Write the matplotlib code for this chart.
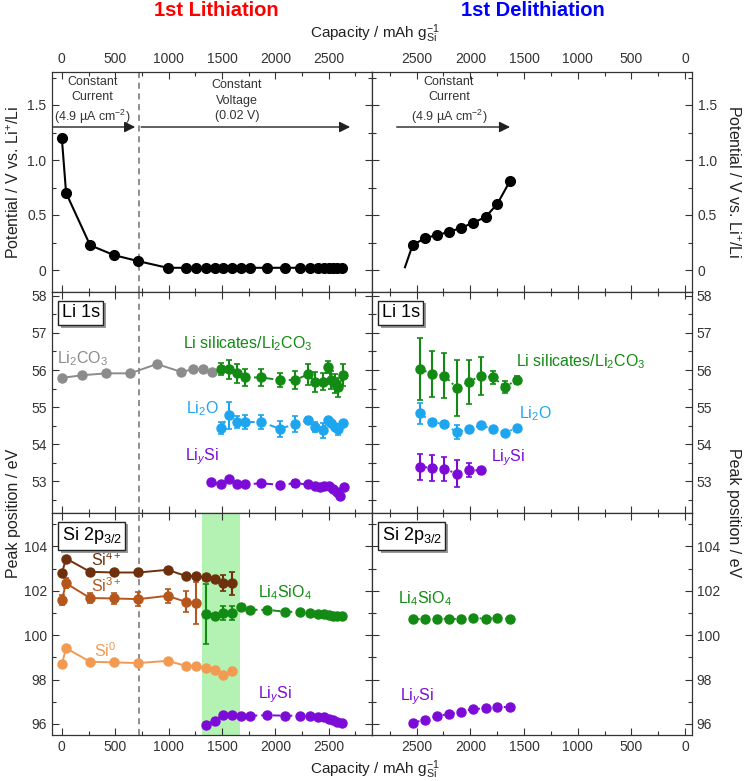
import numpy as np
import matplotlib
matplotlib.use('Agg')
from matplotlib import pyplot as plt
from matplotlib import patheffects
from matplotlib.ticker import MultipleLocator, FuncFormatter

plt.rcParams['font.family'] = ['Liberation Sans', 'DejaVu Sans']
plt.rcParams['mathtext.fontset'] = 'custom'
plt.rcParams['mathtext.rm'] = 'Liberation Sans'
plt.rcParams['mathtext.it'] = 'Liberation Sans:italic'
plt.rcParams['mathtext.bf'] = 'Liberation Sans:bold'

# ---- potential curves ----
cap_lith = [0, 40, 265, 490, 718, 990, 1159, 1259, 1350, 1431, 1512, 1593,
            1674, 1765, 1924, 2093, 2227, 2327, 2402, 2455, 2499, 2540, 2580, 2624]
pot_lith = [1.20, 0.70, 0.225, 0.135, 0.08, 0.02, 0.02, 0.02, 0.02, 0.02, 0.02, 0.02,
            0.02, 0.02, 0.02, 0.02, 0.02, 0.02, 0.02, 0.02, 0.02, 0.02, 0.02, 0.02]
cap_delith = [2609, 2537, 2423, 2314, 2199, 2087, 1972, 1857, 1749, 1630]
pot_delith = [0.025, 0.228, 0.288, 0.318, 0.345, 0.384, 0.429, 0.483, 0.60, 0.81]

# ---- Li 1s, lithiation ----
cap_li2co3 = [6, 193, 418, 640, 890, 1118, 1233, 1318, 1402]
li2co3 = [55.79, 55.86, 55.91, 55.91, 56.16, 55.95, 56.02, 56.02, 55.95]
cap_li1s = [1490, 1568, 1640, 1718, 1865, 2040, 2187, 2302, 2374, 2443, 2493, 2525, 2558, 2590, 2635]
lisil = [56.02, 56.02, 55.91, 55.80, 55.80, 55.73, 55.73, 55.88, 55.68, 55.68, 56.07, 55.73, 55.64, 55.53, 55.86]
lisil_err = [0.16, 0.25, 0.25, 0.22, 0.23, 0.20, 0.23, 0.28, 0.26, 0.23, 0.16, 0.25, 0.25, 0.25, 0.30]
li2o = [54.45, 54.78, 54.60, 54.60, 54.60, 54.42, 54.54, 54.65, 54.47, 54.38, 54.65, 54.56, 54.47, 54.40, 54.56]
li2o_err = [0.16, 0.36, 0.17, 0.20, 0.18, 0.22, 0.21, 0.08, 0.14, 0.20, 0.05, 0.05, 0.08, 0.15, 0.05]
cap_liysi1s = [1395, 1487, 1568, 1640, 1718, 1865, 2040, 2187, 2302, 2374, 2420, 2460, 2500, 2540, 2578, 2608, 2640]
liysi1s = [52.98, 52.92, 53.07, 52.92, 52.92, 52.95, 52.91, 52.95, 52.92, 52.87, 52.85, 52.89, 52.87,
           52.80, 52.71, 52.60, 52.85]
liysi1s_err = [0, 0, 0, 0, 0, 0, 0.05, 0.1, 0.05, 0.05, 0, 0, 0, 0.05, 0.05, 0, 0]

# ---- Li 1s, delithiation ----
cap_d1s = [2469, 2355, 2243, 2127, 2015, 1901, 1789, 1677, 1565]
lisil_d = [56.03, 55.89, 55.85, 55.52, 55.68, 55.85, 55.80, 55.55, 55.73]
lisil_d_err = [0.84, 0.62, 0.61, 0.76, 0.59, 0.51, 0.18, 0.16, 0.12]
li2o_d = [54.83, 54.60, 54.54, 54.33, 54.41, 54.51, 54.41, 54.31, 54.44]
li2o_d_err = [0.28, 0.05, 0.08, 0.20, 0.05, 0.05, 0.05, 0.05, 0.05]
liysi_d = [53.39, 53.37, 53.34, 53.21, 53.30, 53.30]
liysi_d_err = [0.36, 0.35, 0.32, 0.36, 0.19, 0.10]

# ---- Si 2p3/2, lithiation ----
cap_si = [0, 40, 265, 490, 718, 990, 1159, 1259, 1350, 1431, 1512, 1593]
si4 = [102.78, 103.45, 102.85, 102.82, 102.82, 102.94, 102.67, 102.64, 102.60, 102.52, 102.34, 102.34]
si4_err = [0, 0, 0, 0, 0, 0, 0, 0, 0, 0, 0.37, 0.52]
si3 = [101.58, 102.33, 101.67, 101.65, 101.62, 101.77, 101.50, 101.44]
si3_err = [0.23, 0.23, 0.23, 0.25, 0.30, 0.32, 0.47, 0.94]
si0 = [98.69, 99.41, 98.80, 98.77, 98.74, 98.84, 98.62, 98.59, 98.53, 98.44, 98.20, 98.39]
si0_err = [0, 0, 0, 0, 0, 0, 0, 0, 0, 0, 0, 0.15]
cap_si2 = [1350, 1431, 1512, 1593, 1674, 1765, 1924, 2093, 2227, 2327, 2402, 2455, 2499, 2540, 2580, 2624]
li4sio4 = [100.95, 100.84, 100.99, 100.99, 101.25, 101.14, 101.14, 101.05, 101.05, 100.99, 100.95,
           100.95, 100.90, 100.87, 100.87, 100.87]
li4sio4_err = [1.33, 0.1, 0.3, 0.3, 0, 0, 0, 0, 0, 0, 0, 0, 0, 0, 0, 0]
liysi2p = [95.94, 96.15, 96.42, 96.39, 96.37, 96.37, 96.39, 96.37, 96.37, 96.34, 96.32, 96.32,
           96.24, 96.16, 96.09, 96.05]

# ---- Si 2p3/2, delithiation ----
cap_d2p = [2537, 2423, 2314, 2199, 2087, 1972, 1857, 1749, 1630]
li4sio4_d = [100.72, 100.72, 100.74, 100.74, 100.72, 100.77, 100.74, 100.77, 100.74]
liysi2p_d = [96.05, 96.19, 96.34, 96.45, 96.55, 96.67, 96.70, 96.76, 96.76]

C_GRAY = '#8c8c8c'
C_GREEN = '#138a13'
C_BLUE = '#1ea5f0'
C_PURPLE = '#7d0bd8'
C_SI4 = '#6e300c'
C_SI3 = '#b5561c'
C_SI0 = '#f39a52'
C_AX = '#333333'

W, H = 748, 781
fig = plt.figure(figsize=(W / 100, H / 100), dpi=100)


def box(x0, y0, x1, y1):
    return [x0 / W, 1 - y1 / H, (x1 - x0) / W, (y1 - y0) / H]


ax_pl = fig.add_axes(box(52, 72, 372, 292))
ax_pr = fig.add_axes(box(372, 72, 692, 292))
ax_ll = fig.add_axes(box(52, 292, 372, 513))
ax_lr = fig.add_axes(box(372, 292, 692, 513))
ax_sl = fig.add_axes(box(52, 513, 372, 735))
ax_sr = fig.add_axes(box(372, 513, 692, 735))

left_axes = [ax_pl, ax_ll, ax_sl]
right_axes = [ax_pr, ax_lr, ax_sr]

for ax in left_axes:
    ax.set_xlim(-92, 2905)
for ax in right_axes:
    ax.set_xlim(2916, -65)

for ax in left_axes + right_axes:
    ax.xaxis.set_major_locator(MultipleLocator(500))
    ax.xaxis.set_minor_locator(MultipleLocator(250))
    ax.tick_params(which='both', direction='in', top=True, right=True,
                   labeltop=False, labelbottom=False, labelleft=False, labelright=False,
                   colors=C_AX, labelsize=10, width=0.8)
    ax.tick_params(which='major', length=5)
    ax.tick_params(which='minor', length=3)
    for s in ax.spines.values():
        s.set_color(C_AX)
        s.set_linewidth(0.9)

for ax in [ax_pl, ax_pr]:
    ax.set_ylim(-0.2, 1.8)
    ax.yaxis.set_major_locator(MultipleLocator(0.5))
    ax.yaxis.set_minor_locator(MultipleLocator(0.25))
    ax.yaxis.set_major_formatter(FuncFormatter(lambda v, p: '0' if abs(v) < 1e-9 else f'{v:.1f}'))
    ax.tick_params(labeltop=True, pad=4)
for ax in [ax_ll, ax_lr]:
    ax.set_ylim(52.15, 58.1)
    ax.yaxis.set_major_locator(MultipleLocator(1))
    ax.yaxis.set_minor_locator(MultipleLocator(0.5))
for ax in [ax_sl, ax_sr]:
    ax.set_ylim(95.5, 105.5)
    ax.yaxis.set_major_locator(MultipleLocator(2))
    ax.yaxis.set_minor_locator(MultipleLocator(1))
    ax.tick_params(labelbottom=True)
for ax in left_axes:
    ax.tick_params(labelleft=True)
for ax in right_axes:
    ax.tick_params(labelright=True)

# dashed line between CC and CV
for ax in left_axes:
    ax.axvline(721, color='#707070', ls=(0, (4, 3)), lw=1.1, zorder=1)

ax_sl.axvspan(1315, 1665, color='#b3f2b3', lw=0, zorder=0)

# potential
ax_pl.plot(cap_lith, pot_lith, '-o', color='k', ms=7, lw=1.5)
ax_pr.plot(cap_delith, pot_delith, '-o', color='k', ms=7, lw=1.5, markevery=list(range(1, len(cap_delith))))

arrow = dict(arrowstyle='-|>', color='#202020', lw=1.0, mutation_scale=16, shrinkA=0, shrinkB=0)
ax_pl.annotate('', xy=(687, 1.3), xytext=(-80, 1.3), arrowprops=arrow)
ax_pl.annotate('', xy=(2700, 1.3), xytext=(743, 1.3), arrowprops=arrow)
ax_pr.annotate('', xy=(1630, 1.3), xytext=(2686, 1.3), arrowprops=arrow)
tkw = dict(ha='center', va='center', fontsize=9, color='#333333', linespacing=1.35)
ax_pl.text(285, 1.54, 'Constant\nCurrent\n(4.9 \u00b5A cm$^{-2}$)', **tkw)
ax_pl.text(1640, 1.54, 'Constant\nVoltage\n(0.02 V)', **tkw)
ax_pr.text(2199, 1.54, 'Constant\nCurrent\n(4.9 \u00b5A cm$^{-2}$)', **tkw)

dash = (0, (4, 2))
ekw = dict(marker='o', ms=6.5, lw=1.4, elinewidth=1.5, capsize=2.5, capthick=1.2)

# Li 1s lithiation
ax_ll.plot(cap_li2co3, li2co3, '-o', color=C_GRAY, ms=6.5, lw=1.4)
ax_ll.errorbar(cap_li1s, lisil, yerr=lisil_err, color=C_GREEN, ls=dash, **ekw)
ax_ll.errorbar(cap_li1s, li2o, yerr=li2o_err, color=C_BLUE, ls=dash, **ekw)
ax_ll.errorbar(cap_liysi1s, liysi1s, yerr=liysi1s_err, color=C_PURPLE, ls=dash, **ekw)

# Li 1s delithiation
ax_lr.errorbar(cap_d1s, lisil_d, yerr=lisil_d_err, color=C_GREEN, ls=':', **ekw)
ax_lr.errorbar(cap_d1s, li2o_d, yerr=li2o_d_err, color=C_BLUE, ls=':', **ekw)
ax_lr.errorbar(cap_d1s[:len(liysi_d)], liysi_d, yerr=liysi_d_err, color=C_PURPLE, ls=':', **ekw)

# Si 2p lithiation
ax_sl.errorbar(cap_si, si4, yerr=si4_err, color=C_SI4, ls='-', **ekw)
ax_sl.errorbar(cap_si[:len(si3)], si3, yerr=si3_err, color=C_SI3, ls='-', **ekw)
ax_sl.errorbar(cap_si, si0, yerr=si0_err, color=C_SI0, ls='-', **ekw)
ax_sl.errorbar(cap_si2, li4sio4, yerr=li4sio4_err, color=C_GREEN, ls=dash, **ekw)
ax_sl.plot(cap_si2, liysi2p, 'o', color=C_PURPLE, ls=dash, ms=6.5, lw=1.4)

# Si 2p delithiation
ax_sr.plot(cap_d2p, li4sio4_d, 'o', color=C_GREEN, ls=':', ms=6.5, lw=1.4)
ax_sr.plot(cap_d2p, liysi2p_d, 'o', color=C_PURPLE, ls=':', ms=6.5, lw=1.4)

# series labels
lkw = dict(ha='center', va='center', fontsize=11.5)
ax_ll.text(-45, 56.3, 'Li$_2$CO$_3$', color=C_GRAY, ha='left', va='center', fontsize=11.5)
ax_ll.text(1741, 56.72, 'Li silicates/Li$_2$CO$_3$', color=C_GREEN, **lkw)
ax_ll.text(1320, 54.95, 'Li$_2$O', color=C_BLUE, **lkw)
ax_ll.text(1315, 53.66, 'Li$_y$Si', color=C_PURPLE, **lkw)
ax_lr.text(969, 56.22, 'Li silicates/Li$_2$CO$_3$', color=C_GREEN, **lkw)
ax_lr.text(1397, 54.83, 'Li$_2$O', color=C_BLUE, **lkw)
ax_lr.text(1654, 53.64, 'Li$_y$Si', color=C_PURPLE, **lkw)
ax_sl.text(415, 103.42, 'Si$^{4+}$', color=C_SI4, **lkw)
ax_sl.text(415, 102.25, 'Si$^{3+}$', color=C_SI3, **lkw)
ax_sl.text(406, 99.3, 'Si$^0$', color=C_SI0, **lkw)
ax_sl.text(2093, 101.92, 'Li$_4$SiO$_4$', color=C_GREEN, **lkw)
ax_sl.text(2000, 97.32, 'Li$_y$Si', color=C_PURPLE, **lkw)
ax_sr.text(2422, 101.62, 'Li$_4$SiO$_4$', color=C_GREEN, **lkw)
ax_sr.text(2493, 97.24, 'Li$_y$Si', color=C_PURPLE, **lkw)

# panel tags with shadow
for ax, txt in [(ax_ll, 'Li 1s'), (ax_lr, 'Li 1s'), (ax_sl, 'Si 2p$_{3/2}$'), (ax_sr, 'Si 2p$_{3/2}$')]:
    t = ax.text(0.03, 0.945, txt, transform=ax.transAxes, ha='left', va='top', fontsize=13,
                color='k', bbox=dict(boxstyle='square,pad=0.2', fc='white', ec='#222222', lw=1.0))
    t.get_bbox_patch().set_path_effects([
        patheffects.withSimplePatchShadow(offset=(2, -2), shadow_rgbFace='#999999', alpha=1.0)])

# axis labels
cap_lbl = r'Capacity / mAh g$_{\mathrm{Si}}^{-1}$'
fig.text(375 / W, 1 - 34 / H, cap_lbl, ha='center', va='center', fontsize=11, color='#222222')
fig.text(375 / W, 1 - 770 / H, cap_lbl, ha='center', va='center', fontsize=11, color='#222222')
pot_lbl = 'Potential / V vs. Li$^{+}$/Li'
fig.text(14 / W, 1 - 182 / H, pot_lbl, rotation=90, ha='center', va='center', fontsize=11.5, color='#222222')
fig.text(733 / W, 1 - 182 / H, pot_lbl, rotation=270, ha='center', va='center', fontsize=11.5, color='#222222')
fig.text(14 / W, 1 - 513 / H, 'Peak position / eV', rotation=90, ha='center', va='center', fontsize=11.5, color='#222222')
fig.text(733 / W, 1 - 513 / H, 'Peak position / eV', rotation=270, ha='center', va='center', fontsize=11.5, color='#222222')

fig.text(216 / W, 1 - 10 / H, '1st Lithiation', color='#ff0000', fontsize=14.5, fontweight='bold',
         ha='center', va='center')
fig.text(533 / W, 1 - 10 / H, '1st Delithiation', color='#0000ff', fontsize=14.5, fontweight='bold',
         ha='center', va='center')

fig.savefig('out.png', dpi=100)
